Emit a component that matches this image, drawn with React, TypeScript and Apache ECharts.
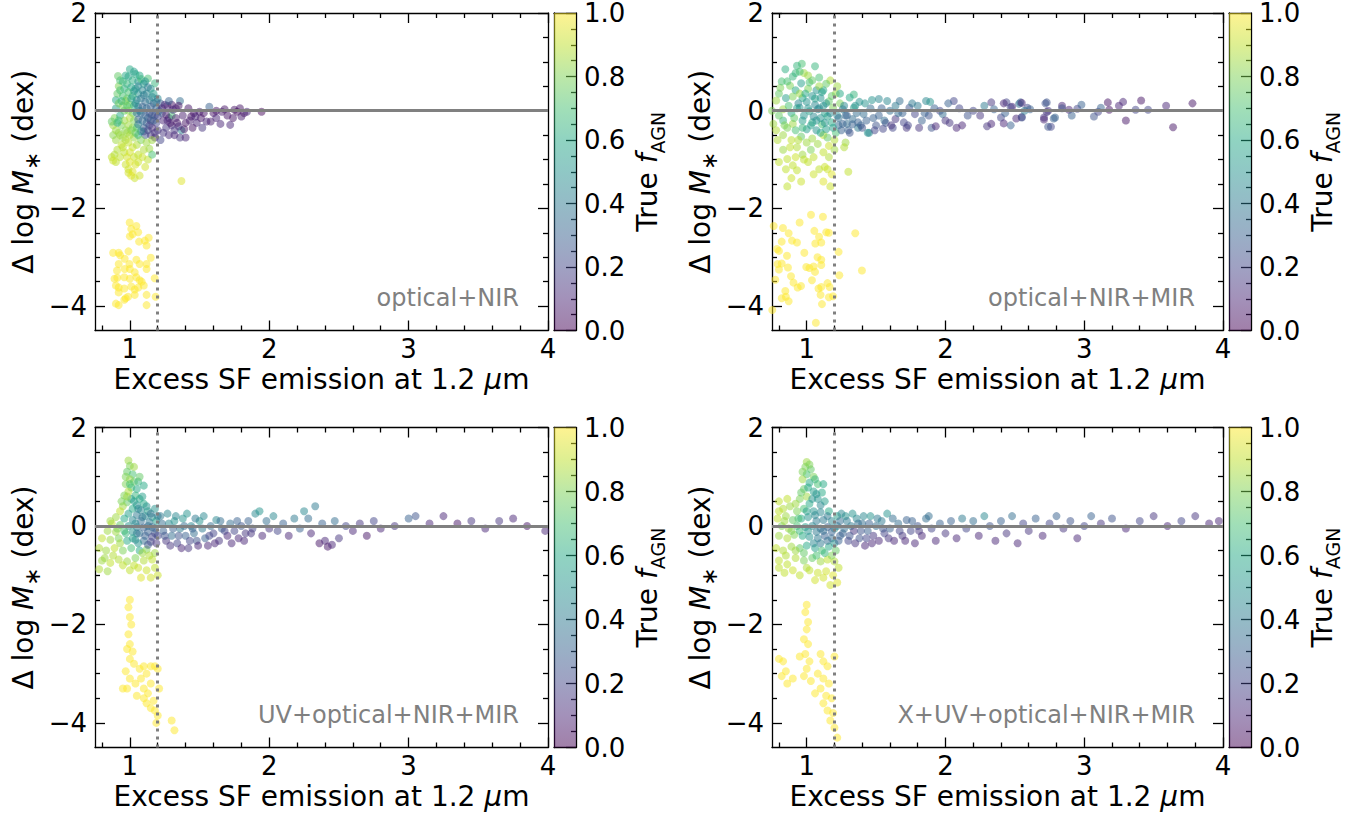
import React, { useEffect, useRef } from 'react';
import * as echarts from 'echarts';

const xMajor = [1, 2, 3, 4];
const xMinor = [0.8, 1.2, 1.4, 1.6, 1.8, 2.2, 2.4, 2.6, 2.8, 3.2, 3.4, 3.6, 3.8];
const yMajor = [-4, -2, 0, 2];
const yMinor = [-3.5, -3, -2.5, -1.5, -1, -0.5, 0.5, 1, 1.5];
const cbMajor = [0, 0.2, 0.4, 0.6, 0.8, 1.0];
const cbMinor = [0.05, 0.1, 0.15, 0.25, 0.3, 0.35, 0.45, 0.5, 0.55, 0.65, 0.7, 0.75, 0.85, 0.9, 0.95];
const panelLabels = ['optical+NIR', 'optical+NIR+MIR', 'UV+optical+NIR+MIR', 'X+UV+optical+NIR+MIR'];
const viridis = ['#440154', '#482475', '#414487', '#355f8d', '#2a788e', '#21918c', '#22a884', '#44bf70', '#7ad151', '#bddf26', '#fde725'];

// points: [excess SF emission, delta log M*, true fAGN]
const p1Core: number[][] = [
  [0.88,-0.30,0.85],[0.89,-0.15,0.8],[0.9,0.05,0.55],[0.9,0.22,0.6],[0.91,0.35,0.75],[0.92,0.5,0.8],[0.915,0.71,0.75],[0.93,0.62,0.7],[0.92,-0.45,0.82],[0.9,-0.6,0.85],[0.89,-0.9,0.88],[0.9,-1.05,0.9],[0.91,-0.8,0.88],[0.93,-0.95,0.9],[0.94,-0.7,0.9],[0.95,-0.55,0.85],[0.94,-0.3,0.8],[0.93,-0.1,0.6],[0.95,0.1,0.8],[0.95,0.3,0.7],[0.96,0.45,0.62],[0.97,0.2,0.85],[0.96,-0.2,0.85],[0.97,-0.4,0.82],[0.96,-0.85,0.9],[0.97,-1.1,0.92],[0.98,-0.95,0.93],[0.92,0.15,0.78],[0.88,-0.5,0.82],[0.91,-0.25,0.6],
  [0.87,-0.22,0.75],[0.87,-0.95,0.9],[0.88,-1.02,0.92],[0.99,-1.27,0.93],[1.035,-1.38,0.92],[1.07,-1.33,0.93],
  [1.0,0.85,0.6],[1.04,0.75,0.6],[0.99,0.7,0.55],[1.02,0.62,0.62],[1.06,0.6,0.5],[0.98,0.55,0.65],[1.01,0.48,0.58],[1.04,0.45,0.55],[1.06,0.35,0.5],[0.99,0.38,0.7],[1.02,0.3,0.65],[1.05,0.22,0.45],[0.98,0.25,0.75],[1.0,0.12,0.8],[1.03,0.1,0.6],[1.06,0.08,0.4],[0.99,0.0,0.85],[1.02,-0.05,0.75],[1.05,-0.05,0.35],[1.0,-0.15,0.88],[1.03,-0.2,0.8],[1.06,-0.18,0.3],[0.99,-0.3,0.85],[1.02,-0.35,0.82],[1.05,-0.35,0.7],[1.0,-0.5,0.88],[1.03,-0.55,0.85],[1.06,-0.5,0.6],[0.99,-0.65,0.9],[1.02,-0.75,0.92],[1.05,-0.7,0.88],[1.0,-0.85,0.93],[1.03,-0.95,0.92],[1.06,-0.9,0.9],[1.0,-1.05,0.95],[1.04,-1.1,0.94],[1.02,-1.25,0.95],[0.99,-1.2,0.93],[1.06,-1.05,0.92],[1.01,-1.33,0.95],
  [1.08,0.65,0.7],[1.13,0.66,0.7],[1.1,0.55,0.55],[1.18,0.56,0.65],[1.15,0.45,0.5],[1.09,0.42,0.45],[1.12,0.35,0.45],[1.17,0.35,0.55],[1.2,0.25,0.45],[1.08,0.25,0.4],[1.11,0.18,0.35],[1.14,0.22,0.4],[1.17,0.15,0.35],[1.09,0.08,0.3],[1.12,0.05,0.35],[1.15,0.08,0.3],[1.19,0.05,0.3],[1.08,-0.05,0.35],[1.11,-0.1,0.3],[1.14,-0.05,0.25],[1.18,-0.1,0.25],[1.09,-0.2,0.35],[1.12,-0.25,0.3],[1.15,-0.2,0.15],[1.19,-0.25,0.2],[1.1,-0.35,0.3],[1.13,-0.4,0.25],[1.16,-0.35,0.1],[1.2,-0.4,0.15],[1.11,-0.5,0.25],[1.15,-0.5,0.15],[1.18,-0.55,0.1],[1.08,-0.6,0.8],[1.12,-0.65,0.85],[1.16,-0.6,0.85],[1.1,-0.8,0.88],[1.14,-0.78,0.85],[1.09,-0.95,0.92],[1.13,-1.0,0.9],[1.11,-1.15,0.93],[1.16,-0.9,0.7],
  [0.95,0.6,0.65],[0.97,0.72,0.6],[1.03,0.8,0.55],[1.07,0.72,0.6],[1.11,0.6,0.5],[1.06,0.5,0.45],[1.13,0.48,0.4],[1.16,0.28,0.45],[1.1,0.32,0.4],[1.04,0.15,0.45],[1.07,0.0,0.4],[1.13,-0.15,0.3],[1.16,-0.08,0.25],[1.1,-0.42,0.2],[1.14,-0.3,0.2],[1.18,-0.45,0.15],[1.17,-0.2,0.3],[1.2,-0.12,0.2],[1.21,0.0,0.35],[1.19,0.18,0.4],[1.06,-0.28,0.4],[1.08,-0.42,0.45],[1.04,-0.45,0.75],[1.01,-0.4,0.8],[0.98,-0.45,0.85],[0.97,-0.6,0.88],[0.95,-0.75,0.9],[0.93,-0.5,0.85],[0.92,-0.2,0.7],[0.94,0.2,0.65],[0.93,0.42,0.7],[0.98,0.1,0.7],[1.01,0.25,0.55],[1.03,0.4,0.5],[0.96,0.0,0.75],[0.9,-0.4,0.85]
];
const p1Tail: number[][] = [
  [1.22,0.15,0.3],[1.25,0.12,0.1],[1.23,-0.05,0.25],[1.27,0.1,0.1],[1.3,0.12,0.05],[1.24,-0.2,0.1],[1.28,-0.15,0.1],[1.3,-0.1,0.7],[1.33,0.05,0.1],[1.26,-0.35,0.15],[1.3,-0.3,0.12],[1.34,-0.25,0.05],[1.37,-0.4,0.45],[1.36,-0.55,0.15],[1.32,-0.5,0.1],[1.28,-0.5,0.12],[1.38,-0.1,0.08],[1.4,-0.25,0.05],[1.36,0.2,0.35],[1.42,0.05,0.05],[1.44,-0.12,0.05],[1.4,-0.55,0.1],[1.22,-0.6,0.2],[1.37,-1.44,0.95],
  [1.23,0.05,0.1],[1.26,-0.08,0.08],[1.29,-0.25,0.05],[1.31,0.02,0.1],[1.33,-0.15,0.08],[1.35,-0.32,0.1],[1.24,-0.45,0.15],[1.27,-0.2,0.1],[1.32,-0.4,0.15],[1.39,-0.38,0.05],[1.43,-0.2,0.08],[1.46,-0.05,0.05],[1.48,-0.25,0.1],[1.51,-0.15,0.05],[1.35,0.1,0.05],[1.28,0.2,0.3],
  [1.47,-0.12,0.1],[1.5,-0.02,0.08],[1.53,-0.05,0.05],[1.55,-0.22,0.1],[1.58,-0.22,0.08],[1.6,-0.05,0.05],[1.62,0.0,0.05],[1.65,-0.27,0.1],[1.66,-0.02,0.08],[1.68,0.03,0.05],[1.7,-0.1,0.05],[1.72,-0.29,0.1],[1.74,-0.15,0.05],[1.75,0.02,0.05],[1.77,-0.02,0.03],[1.79,0.05,0.05],[1.8,-0.12,0.08],[1.82,-0.05,0.05],[1.84,-0.02,0.1],[1.945,-0.02,0.02],[1.57,0.08,0.3],[1.52,-0.35,0.15],[1.62,-0.15,0.1],[1.45,-0.35,0.05]
];
const p1Low: number[][] = [
  [0.999,-2.29,1],[1.047,-2.36,1],[1.01,-2.42,1],[1.02,-2.53,1],[1.0,-2.57,1],[1.06,-2.49,1],[1.066,-2.68,1],[1.107,-2.66,1],[1.135,-2.6,1],[1.12,-2.76,1],[0.88,-2.91,1],[0.92,-2.91,1],[0.93,-2.96,1],[0.99,-2.88,1],[1.15,-3.01,1],[0.963,-3.03,1],[1.047,-3.05,1],[0.92,-3.14,1],[0.997,-3.14,1],[1.07,-3.14,1],[1.12,-3.14,1],[0.908,-3.27,1],[0.963,-3.24,1],[1.0,-3.24,1],[1.035,-3.31,1],[1.12,-3.24,1],[0.89,-3.44,1],[0.91,-3.42,1],[0.96,-3.41,1],[1.0,-3.44,1],[1.047,-3.41,1],[1.07,-3.47,1],[1.085,-3.5,1],[1.178,-3.43,1],[0.9,-3.58,1],[0.92,-3.62,1],[0.96,-3.64,1],[1.01,-3.6,1],[1.035,-3.66,1],[1.06,-3.62,1],[1.1,-3.58,1],[0.92,-3.72,1],[0.987,-3.81,1],[1.035,-3.77,1],[1.12,-3.77,1],[1.185,-3.81,1],[0.9,-3.95,1],[0.92,-3.98,1],[0.96,-3.87,1],[1.12,-3.98,1],[0.97,-3.84,1]
];

const p2Core: number[][] = [
  [0.965,0.96,0.7],[0.93,0.92,0.65],[1.06,0.91,0.65],[0.846,0.85,0.62],[0.98,0.77,0.85],[0.92,0.77,0.65],[1.01,0.72,0.85],[1.09,0.68,0.7],[1.17,0.62,0.88],[1.14,0.55,0.75],[0.81,0.47,0.8],[0.88,0.51,0.8],[0.96,0.56,0.55],[0.92,0.42,0.6],[1.01,0.45,0.8],[1.07,0.42,0.5],[1.21,0.35,0.85],[1.34,0.33,0.65],[1.31,0.27,0.6],[0.78,0.21,0.85],[0.85,0.26,0.55],[0.9,0.29,0.8],[0.97,0.26,0.6],[1.04,0.3,0.5],[1.1,0.26,0.5],[1.16,0.19,0.75],[1.24,0.15,0.8],
  [0.75,0.0,0.8],[0.83,0.03,0.85],[0.89,-0.05,0.6],[0.95,0.06,0.5],[1.02,-0.01,0.55],[1.08,0.03,0.45],[1.13,-0.05,0.55],[1.19,0.06,0.8],[1.26,0.03,0.4],[1.34,0.06,0.55],
  [0.76,-0.27,0.85],[0.83,-0.2,0.65],[0.9,-0.27,0.85],[0.97,-0.2,0.55],[1.04,-0.24,0.6],[1.11,-0.28,0.7],[1.18,-0.24,0.6],[1.23,-0.3,0.35],[1.29,-0.27,0.35],[1.37,-0.35,0.4],[1.44,-0.45,0.5],
  [0.83,-0.5,0.85],[0.89,-0.6,0.9],[0.96,-0.53,0.75],[1.04,-0.57,0.85],[1.12,-0.5,0.9],[1.2,-0.8,0.85],[1.28,-0.65,0.85],[1.16,-0.72,0.92],
  [0.8,-1.05,0.9],[0.86,-0.99,0.9],[0.9,-1.12,0.9],[0.93,-1.22,0.9],[0.89,-1.38,0.92],[0.86,-1.55,0.9],[1.01,-1.05,0.9],[1.09,-1.2,0.9],[1.13,-1.15,0.92],[1.15,-1.2,0.92],[1.3,-1.25,0.9],[1.17,-1.55,0.92],[1.18,-1.3,0.95],[1.16,-0.95,0.88],[0.97,-0.9,0.85],[1.03,-0.8,0.8],[0.83,-0.8,0.85],[1.27,-0.75,0.88],
  [0.94,0.15,0.45],[1.0,0.18,0.5],[1.06,0.12,0.45],[1.12,0.1,0.5],[0.98,-0.1,0.5],[1.05,-0.12,0.45],[1.1,-0.15,0.5],[1.15,-0.12,0.55],[1.0,-0.38,0.55],[1.07,-0.4,0.5],[1.14,-0.38,0.55],[0.92,-0.4,0.7],[0.86,-0.35,0.8],[0.8,-0.1,0.75],[0.79,-0.6,0.88],[0.93,-0.75,0.88],[1.08,-0.68,0.85],[1.22,-0.1,0.45],[1.21,-0.45,0.7],[1.24,0.35,0.6],[1.12,0.42,0.6],[0.86,0.6,0.7],[1.02,0.58,0.7],[0.95,0.35,0.85],[1.09,0.5,0.85],
  [0.78,-0.4,0.88],[0.8,0.35,0.75],[0.82,0.6,0.7],[0.84,-0.3,0.8],[0.87,0.1,0.7],[0.88,-0.75,0.9],[0.9,0.7,0.65],[0.91,-0.15,0.75],[0.93,0.05,0.55],[0.94,-0.6,0.88],[0.95,0.8,0.7],[0.97,-0.35,0.65],[0.99,0.35,0.6],[1.0,-0.65,0.85],[1.01,0.05,0.5],[1.03,-0.3,0.55],[1.04,0.62,0.75],[1.05,-0.95,0.9],[1.06,0.25,0.55],[1.07,-0.2,0.5],[1.09,0.05,0.45],[1.1,-0.45,0.6],[1.11,0.38,0.55],[1.12,-0.85,0.9],[1.13,-0.25,0.5],[1.14,0.15,0.5],[1.15,-0.55,0.75],[1.17,-0.05,0.45],[1.18,0.3,0.75],[1.19,-0.35,0.55],[1.2,-0.6,0.88],[1.22,0.5,0.85],[0.98,-1.0,0.9],[0.92,-0.95,0.92],[1.05,-1.3,0.92],[0.85,-1.2,0.9],[0.96,-1.45,0.92],[1.12,-1.45,0.95]
];
const p2Band: number[][] = [
  [1.26,-0.27,0.3],[1.33,-0.17,0.35],[1.37,-0.24,0.3],[1.41,-0.07,0.35],[1.45,-0.45,0.45],[1.5,-0.3,0.25],[1.55,-0.37,0.2],[1.52,-0.1,0.3],[1.58,0.2,0.45],[1.6,0.0,0.35],[1.64,-0.17,0.15],[1.67,0.2,0.35],[1.7,-0.24,0.2],[1.74,0.06,0.25],[1.78,-0.07,0.2],[1.83,-0.2,0.3],[1.86,0.2,0.45],[1.9,-0.35,0.25],[1.93,-0.32,0.1],[1.96,0.0,0.2],[1.98,-0.07,0.35],[2.06,0.2,0.2],[2.1,0.05,0.2],[2.16,-0.1,0.25],[2.2,0.0,0.2],[2.25,-0.1,0.15],[2.33,0.17,0.15],[2.35,0.03,0.3],[2.33,-0.27,0.1],[2.4,-0.14,0.2],[2.44,0.17,0.2],[2.48,0.08,0.1],[2.54,0.17,0.3],[2.55,-0.14,0.25],[2.59,0.06,0.2],[2.73,0.17,0.25],[2.74,0.0,0.15],[2.71,-0.14,0.15],[2.76,-0.33,0.2],[2.79,-0.14,0.3],
  [1.28,-0.1,0.35],[1.3,-0.4,0.3],[1.35,0.1,0.5],[1.39,-0.3,0.3],[1.42,0.15,0.5],[1.47,0.22,0.5],[1.48,-0.15,0.3],[1.52,0.24,0.45],[1.56,-0.2,0.35],[1.62,-0.35,0.2],[1.66,-0.05,0.35],[1.72,-0.35,0.15],[1.8,0.1,0.4],[1.89,0.18,0.5],[1.88,-0.1,0.25],[2.02,0.15,0.3],[2.03,-0.25,0.15],[2.12,-0.3,0.1],[2.28,0.1,0.4],[2.3,-0.32,0.15],
  [1.23,-0.15,0.35],[1.25,-0.4,0.3],[1.27,0.1,0.45],[1.29,-0.1,0.3],[1.31,-0.45,0.25],[1.33,-0.28,0.3],[1.36,-0.05,0.35],[1.38,0.18,0.5],[1.4,-0.35,0.25],[1.43,-0.2,0.3],[1.46,0.05,0.35],[1.49,-0.4,0.2],[1.54,0.05,0.3],[1.57,-0.25,0.25],[1.61,-0.3,0.15],[1.64,0.1,0.4],[1.69,-0.05,0.3],[1.73,-0.3,0.2],[1.76,0.15,0.4],[1.81,-0.35,0.15],[1.85,-0.05,0.3],[1.92,0.05,0.3],[2.0,-0.2,0.15],[2.08,-0.35,0.1],
  [2.42,0.15,0.1],[2.43,-0.05,0.3],[2.42,-0.26,0.1],[2.47,-0.3,0.3],[2.47,0.07,0.2],[2.53,0.14,0.35],[2.55,0.16,0.1],[2.51,-0.16,0.1],[2.55,-0.13,0.2],[2.57,0.0,0.4],[2.61,0.03,0.3],[2.72,0.15,0.25],[2.73,-0.03,0.15],[2.71,-0.18,0.1],[2.78,-0.16,0.3],[2.74,-0.33,0.25],[2.84,0.1,0.1],[2.84,0.05,0.25],[2.89,0.02,0.1],[2.91,-0.1,0.3],[2.95,0.04,0.2],[2.98,0.12,0.3],[3.07,-0.12,0.25],[3.1,-0.02,0.2],[3.12,0.06,0.3],[3.17,0.17,0.05],[3.18,0.02,0.05],[3.25,0.1,0.1],[3.28,0.18,0.1],[3.3,-0.2,0.05],[3.37,0.02,0.2],[3.41,0.21,0.05],[3.46,0.02,0.2],[3.59,0.1,0.1],[3.64,-0.34,0.05],[3.78,0.15,0.05]
];
const p2Low: number[][] = [
  [1.031,-2.13,1],[1.117,-2.17,1],[0.762,-2.36,1],[0.829,-2.4,1],[0.949,-2.29,1],[0.87,-2.51,1],[1.055,-2.46,1],[1.141,-2.49,1],[1.16,-2.5,1],[1.089,-2.58,1],[1.35,-2.51,1],[0.894,-2.66,1],[0.93,-2.7,1],[0.82,-2.68,1],[1.062,-2.72,1],[1.105,-2.7,1],[0.786,-2.83,1],[0.8,-2.87,1],[0.858,-2.97,1],[0.983,-2.91,1],[1.078,-3.0,1],[1.105,-3.05,1],[1.23,-2.89,1],[0.79,-3.14,1],[0.82,-3.13,1],[0.8,-3.25,1],[0.865,-3.21,1],[0.997,-3.2,1],[1.02,-3.22,1],[1.05,-3.19,1],[1.06,-3.3,1],[1.105,-3.16,1],[1.398,-3.27,1],[1.235,-3.37,1],[0.774,-3.46,1],[0.887,-3.39,1],[0.905,-3.52,1],[0.959,-3.59,1],[0.935,-3.62,1],[1.038,-3.47,1],[1.085,-3.64,1],[1.105,-3.61,1],[1.15,-3.53,1],[1.165,-3.61,1],[0.846,-3.69,1],[0.82,-3.84,1],[0.85,-3.81,1],[0.87,-3.9,1],[1.1,-3.77,1],[1.16,-3.82,1],[1.19,-3.8,1],[1.11,-3.96,1],[0.752,-4.08,1],[1.066,-4.34,1]
];

const p3Core: number[][] = [
  [0.99,1.33,0.85],[1.0,1.22,0.8],[0.98,1.1,0.75],[1.02,1.05,0.7],[1.0,0.95,0.85],[0.97,0.85,0.8],[1.03,0.9,0.75],[1.01,0.78,0.7],[1.05,0.75,0.6],[0.99,0.7,0.88],[1.04,0.62,0.65],[0.96,0.62,0.8],[1.07,0.55,0.6],[1.01,0.55,0.55],[0.98,0.48,0.75],[1.1,0.45,0.6],[1.05,0.42,0.5],[0.95,0.4,0.85],[1.02,0.35,0.6],[1.08,0.32,0.45],[1.13,0.3,0.55],[0.93,0.3,0.9],[0.99,0.25,0.55],[1.05,0.22,0.4],[1.11,0.2,0.45],[1.16,0.18,0.5],[0.9,0.18,0.85],[0.96,0.15,0.6],[1.02,0.12,0.45],[1.08,0.1,0.35],[1.14,0.08,0.4],[1.19,0.1,0.55],[0.87,0.05,0.9],[0.93,0.02,0.75],[0.99,0.0,0.5],[1.05,-0.02,0.4],[1.1,-0.03,0.3],[1.16,-0.02,0.35],[0.84,-0.1,0.85],[0.9,-0.12,0.85],[0.96,-0.1,0.7],[1.02,-0.12,0.5],[1.07,-0.15,0.35],[1.13,-0.12,0.3],[1.18,-0.15,0.25],[0.8,-0.25,0.9],[0.86,-0.28,0.85],[0.92,-0.25,0.8],[0.98,-0.3,0.6],[1.04,-0.28,0.45],[1.1,-0.3,0.35],[1.15,-0.32,0.2],[0.78,-0.45,0.88],[0.83,-0.5,0.85],[0.89,-0.45,0.9],[0.95,-0.5,0.8],[1.01,-0.45,0.7],[1.07,-0.5,0.6],[1.12,-0.48,0.8],[0.8,-0.7,0.85],[0.86,-0.75,0.9],[0.92,-0.68,0.88],[0.98,-0.72,0.85],[1.04,-0.65,0.8],[1.1,-0.7,0.88],[1.16,-0.68,0.9],[0.78,-0.88,0.88],[0.84,-0.92,0.85],[1.0,-0.9,0.9],[1.06,-0.85,0.92],[1.12,-0.9,0.92],[1.18,-0.85,0.9],[1.08,-1.05,0.95],[1.15,-1.05,0.93],[1.2,-1.0,0.92],
  [0.97,1.0,0.8],[1.03,1.2,0.85],[1.0,0.85,0.7],[1.06,0.9,0.65],[0.98,0.6,0.85],[1.03,0.5,0.55],[1.09,0.6,0.55],[1.06,0.35,0.45],[1.12,0.4,0.5],[1.15,0.25,0.35],[1.09,0.18,0.4],[1.13,0.0,0.35],[1.18,-0.05,0.3],[1.2,0.2,0.4],[1.05,-0.15,0.4],[1.11,-0.2,0.3],[1.16,-0.22,0.2],[1.19,-0.35,0.15],[1.13,-0.38,0.25],[1.06,-0.35,0.5],[1.02,-0.25,0.55],[0.97,-0.15,0.65],[0.93,-0.35,0.85],[0.88,-0.6,0.88],[0.82,-0.65,0.85],[0.95,-0.8,0.9],[1.03,-0.8,0.9],[1.09,-0.55,0.85],[1.14,-0.6,0.88],[1.18,-0.55,0.85],[1.04,0.05,0.45],[0.94,0.5,0.8],[0.91,-0.05,0.8],[0.86,0.1,0.85],[1.1,0.82,0.6],[1.07,1.0,0.75],[1.2,-0.2,0.2],[1.18,0.35,0.5]
];
const p3Band: number[][] = [
  [1.22,0.2,0.4],[1.24,-0.1,0.3],[1.26,-0.3,0.15],[1.28,0.05,0.45],[1.3,-0.2,0.35],[1.32,0.1,0.5],[1.34,-0.35,0.2],[1.36,-0.05,0.4],[1.38,0.15,0.5],[1.4,-0.2,0.3],[1.42,-0.45,0.15],[1.44,0.0,0.45],[1.46,-0.15,0.35],[1.48,-0.3,0.25],[1.5,0.1,0.5],[1.52,-0.05,0.4],[1.54,-0.25,0.3],[1.56,-0.4,0.1],[1.58,0.0,0.35],[1.6,-0.15,0.2],[1.62,0.12,0.45],[1.64,-0.3,0.15],[1.66,-0.05,0.3],[1.7,-0.2,0.1],[1.72,0.05,0.35],[1.75,-0.1,0.2],[1.78,-0.25,0.1],[1.8,0.0,0.25],[1.83,-0.15,0.15],[1.85,0.1,0.3],[1.88,-0.05,0.2],[1.9,0.25,0.45],[1.93,0.3,0.5],[1.95,-0.2,0.1],[1.98,0.1,0.35],[2.0,-0.05,0.15],[2.03,0.2,0.45],[2.06,-0.1,0.2],[2.1,0.05,0.3],[2.14,-0.2,0.1],[2.18,0.15,0.4],[2.22,-0.05,0.3],[2.25,0.3,0.45],[2.28,0.15,0.35],[2.3,-0.15,0.1],[2.33,0.4,0.4],[2.36,-0.35,0.05],[2.38,0.05,0.3],[2.4,-0.3,0.1],[2.42,-0.42,0.05],[2.45,-0.38,0.1],[2.47,0.1,0.35],[2.5,-0.25,0.15],[2.55,0.0,0.2],[2.6,-0.1,0.1],[2.65,0.05,0.15],[2.7,-0.2,0.05],[2.75,0.1,0.2],[2.8,-0.05,0.1],[2.9,0.0,0.15],[3.0,0.15,0.3],[3.05,0.2,0.25],[3.15,0.05,0.1],[3.25,0.2,0.1],[3.35,0.05,0.05],[3.45,0.1,0.15],[3.55,-0.05,0.1],[3.65,0.1,0.15],[3.75,0.15,0.1],[3.85,0.0,0.05],[3.98,-0.1,0.1],
  [1.23,0.05,0.35],[1.25,-0.2,0.25],[1.27,0.25,0.45],[1.29,-0.4,0.15],[1.31,-0.05,0.3],[1.33,0.2,0.45],[1.35,-0.2,0.25],[1.37,-0.45,0.1],[1.39,0.0,0.35],[1.41,0.25,0.5],[1.43,-0.3,0.2],[1.45,-0.05,0.3],[1.47,0.15,0.4],[1.49,-0.4,0.1],[1.53,0.2,0.45],[1.57,-0.2,0.2],[1.61,-0.35,0.1],[1.65,0.1,0.35],[1.68,-0.1,0.2],[1.73,-0.35,0.1],[1.77,0.1,0.3],[1.82,-0.3,0.1],[1.87,-0.15,0.15]
];
const p3Low: number[][] = [
  [1.0,-1.5,1],[0.99,-1.65,1],[1.0,-1.85,1],[1.01,-2.0,1],[0.99,-2.2,1],[1.0,-2.4,1],[0.98,-2.5,1],[1.02,-2.55,1],[1.0,-2.7,1],[0.97,-2.95,1],[1.03,-2.8,1],[1.0,-3.1,1],[0.98,-3.3,1],[1.04,-3.2,1],[1.07,-2.9,1],[1.1,-2.85,1],[1.12,-3.0,1],[1.15,-2.85,1],[1.18,-2.85,1],[1.2,-2.9,1],[1.08,-3.1,1],[1.1,-3.3,1],[1.13,-3.4,1],[1.15,-3.2,1],[1.17,-3.55,1],[1.12,-3.6,1],[1.15,-3.7,1],[1.18,-3.75,1],[1.2,-3.85,1],[1.19,-4.0,1],[1.1,-3.5,1],[1.05,-3.45,1],[1.21,-3.3,1],[1.3,-3.95,1],[1.32,-4.15,1],[0.95,-3.3,1]
];

const p4Core: number[][] = [
  [1.0,1.3,0.85],[0.99,1.2,0.8],[1.03,1.15,0.75],[1.0,1.05,0.7],[0.97,0.95,0.85],[1.05,1.0,0.8],[1.02,0.88,0.6],[1.08,0.85,0.7],[0.98,0.75,0.75],[1.05,0.7,0.55],[1.11,0.68,0.6],[1.0,0.6,0.85],[0.95,0.55,0.8],[1.08,0.55,0.5],[1.13,0.5,0.55],[1.02,0.45,0.6],[0.8,0.5,0.9],[0.83,0.35,0.88],[0.88,0.4,0.85],[0.93,0.3,0.8],[0.98,0.35,0.7],[1.05,0.3,0.5],[1.1,0.28,0.45],[1.16,0.3,0.6],[0.79,0.15,0.9],[0.85,0.2,0.85],[0.9,0.12,0.75],[0.96,0.15,0.6],[1.01,0.18,0.5],[1.07,0.1,0.4],[1.12,0.12,0.4],[1.18,0.1,0.45],[1.22,0.2,0.55],[0.82,0.0,0.8],[0.87,-0.05,0.85],[0.93,0.0,0.7],[0.99,-0.02,0.55],[1.04,0.0,0.45],[1.1,-0.05,0.35],[1.15,-0.02,0.3],[1.2,-0.05,0.5],[0.8,-0.2,0.85],[0.86,-0.25,0.88],[0.91,-0.18,0.8],[0.97,-0.2,0.6],[1.02,-0.22,0.5],[1.08,-0.25,0.4],[1.13,-0.2,0.3],[1.18,-0.25,0.35],[1.24,-0.2,0.3],[0.78,-0.45,0.9],[0.83,-0.5,0.88],[0.89,-0.42,0.85],[0.95,-0.45,0.75],[1.0,-0.4,0.6],[1.06,-0.45,0.55],[1.11,-0.5,0.7],[1.16,-0.42,0.6],[1.21,-0.5,0.75],[0.8,-0.7,0.9],[0.86,-0.78,0.9],[0.92,-0.65,0.88],[0.98,-0.7,0.8],[1.04,-0.65,0.75],[1.1,-0.72,0.85],[1.15,-0.68,0.9],[1.2,-0.72,0.88],[0.84,-0.95,0.9],[0.9,-0.9,0.92],[1.02,-0.9,0.9],[1.08,-0.95,0.92],[1.14,-0.92,0.93],[1.19,-1.0,0.95],[1.22,-1.15,0.95],[1.17,-1.2,0.93],
  [0.97,1.1,0.8],[1.02,1.25,0.8],[1.06,0.95,0.65],[1.01,0.78,0.6],[1.07,0.65,0.5],[1.12,0.85,0.6],[0.96,0.68,0.75],[1.04,0.55,0.5],[1.1,0.42,0.45],[1.15,0.2,0.4],[1.06,0.22,0.45],[1.0,0.3,0.55],[0.94,0.15,0.7],[0.92,0.45,0.85],[0.86,0.55,0.9],[0.8,0.3,0.9],[0.84,0.1,0.85],[0.89,-0.1,0.8],[0.95,-0.1,0.65],[1.01,-0.1,0.5],[1.07,-0.12,0.4],[1.12,-0.1,0.35],[1.18,-0.12,0.3],[1.22,0.0,0.4],[1.05,-0.35,0.45],[1.1,-0.35,0.4],[1.15,-0.3,0.35],[1.2,-0.35,0.5],[0.98,-0.55,0.75],[0.92,-0.5,0.85],[0.85,-0.6,0.88],[0.8,-0.85,0.9],[1.07,-0.6,0.7],[1.13,-0.55,0.65],[1.18,-0.6,0.8],[1.0,-0.85,0.88],[1.06,-1.1,0.93],[1.12,-1.05,0.93],[1.23,-0.85,0.9],[0.95,-1.0,0.9]
];
const p4Band: number[][] = [
  [1.24,0.1,0.35],[1.26,-0.15,0.3],[1.28,0.2,0.5],[1.3,-0.3,0.2],[1.32,0.0,0.4],[1.34,-0.1,0.15],[1.36,0.15,0.45],[1.38,-0.25,0.25],[1.4,0.05,0.35],[1.42,-0.4,0.1],[1.44,-0.1,0.3],[1.46,0.2,0.5],[1.48,-0.2,0.15],[1.5,0.0,0.35],[1.52,-0.3,0.1],[1.54,0.1,0.4],[1.56,-0.15,0.2],[1.58,0.25,0.5],[1.6,-0.05,0.3],[1.63,-0.3,0.1],[1.66,0.05,0.35],[1.69,-0.2,0.15],[1.72,0.12,0.3],[1.75,-0.1,0.2],[1.78,-0.35,0.1],[1.8,0.0,0.25],[1.83,-0.2,0.1],[1.86,0.15,0.35],[1.9,-0.05,0.2],[1.93,-0.3,0.1],[1.96,0.05,0.3],[2.0,-0.15,0.15],[2.04,0.1,0.3],[2.08,-0.25,0.1],[2.12,0.15,0.4],[2.15,-0.05,0.2],[2.2,0.1,0.35],[2.24,-0.2,0.1],[2.28,0.2,0.45],[2.32,0.0,0.25],[2.36,-0.3,0.1],[2.4,0.1,0.3],[2.44,-0.15,0.15],[2.48,0.2,0.35],[2.52,-0.35,0.1],[2.56,0.05,0.2],[2.6,-0.1,0.15],[2.65,0.15,0.3],[2.7,-0.2,0.1],[2.75,0.05,0.2],[2.8,0.2,0.3],[2.85,-0.05,0.15],[2.9,0.1,0.25],[2.95,-0.25,0.1],[3.0,0.0,0.2],[3.05,0.2,0.3],[3.12,0.05,0.15],[3.2,0.15,0.25],[3.3,-0.05,0.1],[3.4,0.1,0.2],[3.5,0.2,0.15],[3.6,0.0,0.1],[3.7,0.1,0.2],[3.8,0.2,0.15],[3.9,0.05,0.1],[3.97,0.1,0.1],
  [1.23,-0.3,0.3],[1.25,0.25,0.45],[1.27,-0.05,0.35],[1.29,0.1,0.4],[1.31,-0.2,0.25],[1.33,0.25,0.5],[1.35,-0.35,0.15],[1.37,0.05,0.35],[1.39,-0.1,0.25],[1.41,0.2,0.45],[1.43,-0.25,0.2],[1.45,0.05,0.3],[1.47,-0.35,0.1],[1.51,0.15,0.4],[1.55,-0.05,0.25],[1.59,-0.25,0.15],[1.62,0.15,0.35],[1.67,-0.1,0.2],[1.71,-0.3,0.1],[1.76,0.1,0.3],[1.81,-0.1,0.15],[1.88,0.2,0.35]
];
const p4Low: number[][] = [
  [1.0,-1.6,1],[0.99,-1.75,1],[1.01,-1.95,1],[1.0,-2.1,1],[0.98,-2.3,1],[1.01,-2.4,1],[0.99,-2.6,1],[1.02,-2.75,1],[1.0,-2.9,1],[0.98,-3.05,1],[1.03,-3.15,1],[0.8,-2.7,1],[0.83,-2.75,1],[0.85,-2.95,1],[0.82,-3.05,1],[0.86,-3.2,1],[0.9,-3.1,1],[1.1,-2.6,1],[1.12,-2.75,1],[1.15,-2.85,1],[1.08,-3.0,1],[1.12,-3.1,1],[1.16,-3.2,1],[1.1,-3.3,1],[1.14,-3.45,1],[1.18,-3.5,1],[1.12,-3.6,1],[1.15,-3.75,1],[1.19,-3.8,1],[1.17,-3.95,1],[1.2,-4.1,1],[1.22,-4.3,1],[1.06,-3.4,1],[1.2,-2.65,1],[0.95,-2.65,1]
];

const FONT = 'DejaVu Sans';
const GRAY = '#808080';
const layout = [
  { left: 95, top: 10.5, width: 453, cb: 554, labelX: 519, labelY: 298 },
  { left: 772, top: 10.5, width: 451, cb: 1229, labelX: 1195, labelY: 298 },
  { left: 95, top: 427.5, width: 453, cb: 554, labelX: 519, labelY: 715 },
  { left: 772, top: 427.5, width: 451, cb: 1229, labelX: 1195, labelY: 715 }
];
const datasets = [
  [...p1Core, ...p1Tail, ...p1Low],
  [...p2Core, ...p2Band, ...p2Low],
  [...p3Core, ...p3Band, ...p3Low],
  [...p4Core, ...p4Band, ...p4Low]
];

const line = { show: true, onZero: false, lineStyle: { color: '#000', width: 1.3 } };
const noLine = { show: false, onZero: false };
const tickStyle = { color: '#000', width: 1.3 };
const minus = (v: number) => (v < 0 ? '\u2212' + String(-v) : String(v));

function buildOption() {
  const grid: any[] = [];
  const xAxis: any[] = [];
  const yAxis: any[] = [];
  const series: any[] = [];
  const graphic: any[] = [];
  layout.forEach((L, k) => {
    grid.push({ left: L.left, top: L.top, width: L.width, height: 320 });
    const xa = (pos: string, ticks: number[], len: number, labels: boolean, showLine: boolean) => ({
      type: 'value', gridIndex: k, position: pos, min: 0.75, max: 4,
      axisLine: showLine ? line : noLine,
      axisTick: { show: true, inside: true, length: len, customValues: ticks, lineStyle: tickStyle },
      axisLabel: labels ? { show: true, customValues: xMajor, fontSize: 26, lineHeight: 20, color: '#000', fontFamily: FONT, margin: 8 } : { show: false },
      splitLine: { show: false },
      name: labels ? '{n|Excess SF emission at 1.2 }{i|\u03bc}{n|m}' : '',
      nameLocation: 'middle', nameGap: 35,
      nameTextStyle: { rich: { n: { fontSize: 28, fontFamily: FONT, color: '#000' }, i: { fontSize: 28, fontFamily: FONT, fontStyle: 'italic', color: '#000' } } }
    });
    xAxis.push(xa('bottom', xMajor, 10, true, true), xa('bottom', xMinor, 5, false, false), xa('top', xMajor, 10, false, true), xa('top', xMinor, 5, false, false));
    const ya = (pos: string, ticks: number[], len: number, labels: boolean, showLine: boolean) => ({
      type: 'value', gridIndex: k, position: pos, min: -4.5, max: 2,
      axisLine: showLine ? line : noLine,
      axisTick: { show: true, inside: true, length: len, customValues: ticks, lineStyle: tickStyle },
      axisLabel: labels ? { show: true, customValues: yMajor, fontSize: 26, lineHeight: 20, color: '#000', fontFamily: FONT, margin: 8, formatter: minus } : { show: false },
      splitLine: { show: false },
      name: labels ? '{n|\u0394 log }{i|M}{s|\u2217}{n| (dex)}' : '',
      nameLocation: 'middle', nameGap: 52, nameRotate: 90,
      nameTextStyle: { rich: {
        n: { fontSize: 28, fontFamily: FONT, color: '#000', lineHeight: 40, verticalAlign: 'middle' },
        i: { fontSize: 28, fontFamily: FONT, fontStyle: 'italic', color: '#000', lineHeight: 40, verticalAlign: 'middle' },
        s: { fontSize: 22, fontFamily: FONT, color: '#000', verticalAlign: 'bottom' } } }
    });
    yAxis.push(ya('left', yMajor, 10, true, true), ya('left', yMinor, 5, false, false), ya('right', yMajor, 10, false, true), ya('right', yMinor, 5, false, false));
    series.push({
      type: 'scatter', xAxisIndex: k * 4, yAxisIndex: k * 4, data: datasets[k], symbolSize: 8,
      itemStyle: { opacity: 0.5 }, z: 2,
      markLine: {
        silent: true, symbol: ['none', 'none'], label: { show: false }, z: 5,
        data: [
          { yAxis: 0, lineStyle: { color: GRAY, width: 3, type: 'solid' } },
          { xAxis: 1.2, lineStyle: { color: GRAY, width: 3, type: [3, 5] } }
        ]
      }
    });
    graphic.push({ type: 'text', x: L.labelX, y: L.labelY, style: { text: panelLabels[k], fill: GRAY, fontSize: 24, fontFamily: FONT, align: 'right', verticalAlign: 'middle' } });
  });
  layout.forEach((L, k) => {
    const g = 4 + k;
    grid.push({ left: L.cb, top: L.top, width: 22, height: 320 });
    const xi = xAxis.length;
    xAxis.push({ type: 'category', gridIndex: g, position: 'bottom', data: ['c'], axisLine: line, axisTick: { show: false }, axisLabel: { show: false } });
    xAxis.push({ type: 'category', gridIndex: g, position: 'top', data: ['c'], axisLine: line, axisTick: { show: false }, axisLabel: { show: false } });
    const yi = yAxis.length;
    yAxis.push({ type: 'value', gridIndex: g, position: 'right', min: 0, max: 1, axisLine: line,
      axisTick: { show: true, inside: true, length: 10, customValues: cbMajor, lineStyle: tickStyle },
      axisLabel: { show: true, customValues: cbMajor, fontSize: 26, lineHeight: 20, color: '#000', fontFamily: FONT, margin: 8, formatter: (v: number) => v.toFixed(1) },
      splitLine: { show: false },
      name: '{n|True }{i|f}{s|AGN}', nameLocation: 'middle', nameGap: 51, nameRotate: 90,
      nameTextStyle: { rich: {
        n: { fontSize: 28, fontFamily: FONT, color: '#000', lineHeight: 40, verticalAlign: 'middle' },
        i: { fontSize: 28, fontFamily: FONT, fontStyle: 'italic', color: '#000', lineHeight: 40, verticalAlign: 'middle' },
        s: { fontSize: 19, fontFamily: FONT, color: '#000', verticalAlign: 'bottom' } } } });
    yAxis.push({ type: 'value', gridIndex: g, position: 'right', min: 0, max: 1, axisLine: noLine,
      axisTick: { show: true, inside: true, length: 5, customValues: cbMinor, lineStyle: tickStyle },
      axisLabel: { show: false }, splitLine: { show: false } });
    yAxis.push({ type: 'value', gridIndex: g, position: 'left', min: 0, max: 1, axisLine: line,
      axisTick: { show: false }, axisLabel: { show: false }, splitLine: { show: false } });
    series.push({
      type: 'bar', xAxisIndex: xi, yAxisIndex: yi, data: [1], barWidth: '100%', silent: true, z: 1,
      itemStyle: {
        opacity: 0.5,
        color: new echarts.graphic.LinearGradient(0, 1, 0, 0, viridis.map((c, i) => ({ offset: i / (viridis.length - 1), color: c })))
      }
    });
  });
  return {
    animation: false,
    backgroundColor: '#fff',
    grid, xAxis, yAxis, series, graphic,
    visualMap: { type: 'continuous', show: false, min: 0, max: 1, dimension: 2, seriesIndex: [0, 1, 2, 3], inRange: { color: viridis } }
  };
}

export default function App() {
  const ref = useRef<HTMLDivElement>(null);
  useEffect(() => {
    document.body.style.margin = '0';
    const chart = echarts.init(ref.current!, null, { renderer: 'svg' });
    chart.setOption(buildOption() as any);
    return () => chart.dispose();
  }, []);
  return <div ref={ref} style={{ width: 1363, height: 823 }} />;
}
